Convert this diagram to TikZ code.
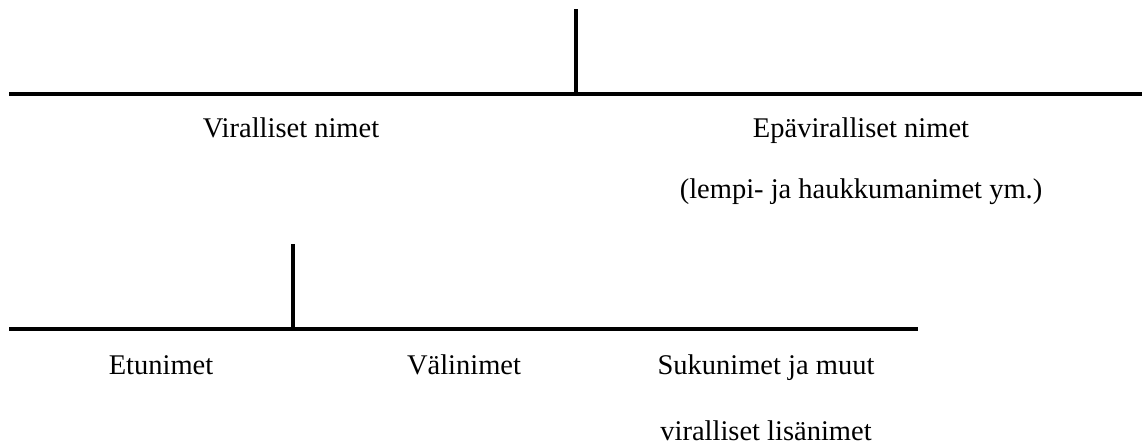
\documentclass[tikz,border=0pt]{standalone}
\usepackage{fontspec}
\setmainfont{Liberation Serif}
\begin{document}
\begin{tikzpicture}[x=1pt,y=-1pt,
  rule/.style={line width=4pt,black},
  lbl/.style={anchor=base,inner sep=0pt,font=\fontsize{28.5}{34}\selectfont}]
\useasboundingbox (0,0) rectangle (1142,447);
% lines
\coordinate (topV) at (576,9);
\coordinate (topJ) at (576,94);
\coordinate (topL) at (9,94);
\coordinate (topR) at (1142,94);
\coordinate (lowV) at (293,244);
\coordinate (lowJ) at (293,329);
\coordinate (lowL) at (9,329);
\coordinate (lowR) at (918,329);
\draw[rule] (topL) -- (topR);
\draw[rule] (topV) -- (topJ);
\draw[rule] (lowL) -- (lowR);
\draw[rule] (lowV) -- (lowJ);
% labels
\node[lbl] (vir) at (291,137.5) {Viralliset nimet};
\node[lbl] (epa) at (861,137.5) {Epäviralliset nimet};
\node[lbl] (lem) at (861,198) {(lempi- ja haukkumanimet ym.)};
\node[lbl] (etu) at (161,374) {Etunimet};
\node[lbl] (val) at (464,374) {Välinimet};
\node[lbl] (suk) at (766,374) {Sukunimet ja muut};
\node[lbl] (lis) at (766,440) {viralliset lisänimet};
\end{tikzpicture}
\end{document}
